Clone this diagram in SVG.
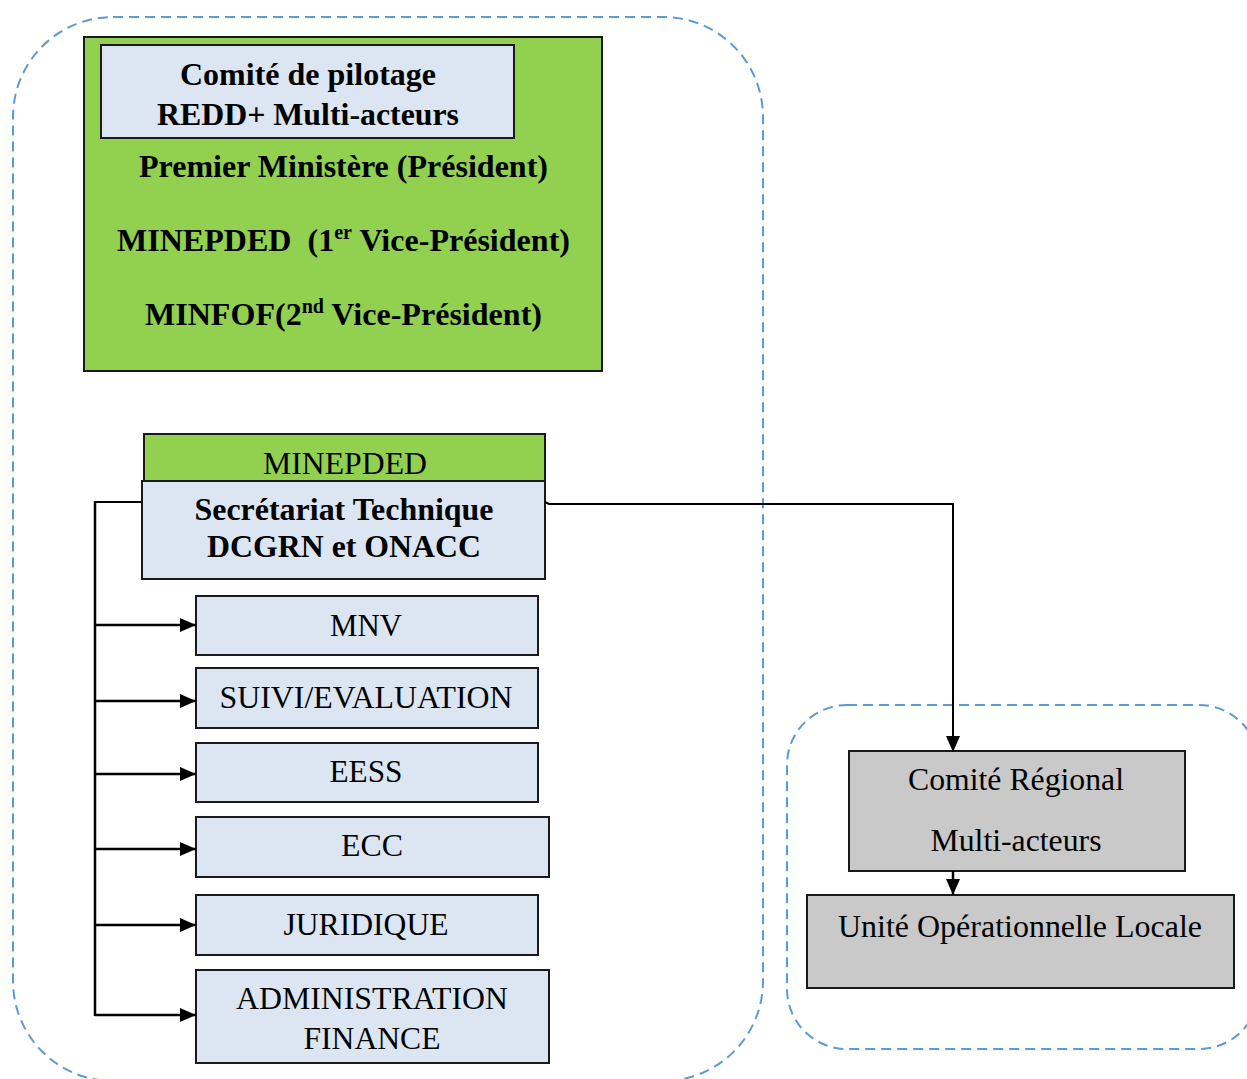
<svg xmlns="http://www.w3.org/2000/svg" width="1247" height="1079" viewBox="0 0 1247 1079">
<defs>
<style>
.dash{fill:none;stroke:#5b9bd5;stroke-width:2;stroke-dasharray:10 6}
.green{fill:#92d050;stroke:#1a1a1a;stroke-width:2}
.blue{fill:#dce6f2;stroke:#1a1a1a;stroke-width:2}
.gray{fill:#c9c9c9;stroke:#1a1a1a;stroke-width:2}
.b{font-family:"Liberation Serif","Times New Roman",serif;font-weight:bold;font-size:32px;fill:#000;text-anchor:middle}
.r{font-family:"Liberation Serif","Times New Roman",serif;font-size:31px;fill:#000;text-anchor:middle}
.line{fill:none;stroke:#000;stroke-width:2.5}
.thin{fill:none;stroke:#000;stroke-width:2}
</style>
<marker id="arrL" markerWidth="16" markerHeight="14" refX="16" refY="7" orient="auto" markerUnits="userSpaceOnUse">
<path d="M0,0 L16,7 L0,14 Z" fill="#000"/>
</marker>
</defs>

<g id="group-national">
<rect class="dash" x="13" y="17" width="750" height="1064" rx="100" ry="100"/>
</g>
<g id="group-regional">
<rect class="dash" x="787" y="705" width="472" height="344" rx="60" ry="60"/>
</g>

<g id="comite-pilotage">
<rect class="green" x="84" y="37" width="518" height="334"/>
<rect class="blue" x="101" y="45" width="413" height="93"/>
<text class="b" x="308" y="85" textLength="256" lengthAdjust="spacingAndGlyphs">Comité de pilotage</text>
<text class="b" x="308" y="125" textLength="302" lengthAdjust="spacingAndGlyphs">REDD+ Multi-acteurs</text>
<text class="b" x="343.5" y="177" textLength="409" lengthAdjust="spacingAndGlyphs">Premier Ministère (Président)</text>
<text class="b" x="343.5" y="251" textLength="453" lengthAdjust="spacingAndGlyphs" xml:space="preserve">MINEPDED  (1<tspan font-size="20" dy="-12">er</tspan><tspan dy="12"> Vice-Président)</tspan></text>
<text class="b" x="343.5" y="325" textLength="397" lengthAdjust="spacingAndGlyphs">MINFOF(2<tspan font-size="20" dy="-12">nd</tspan><tspan dy="12"> Vice-Président)</tspan></text>
</g>

<g id="minepded">
<rect class="green" x="144" y="434" width="401" height="48"/>
<text class="r" x="345" y="474" textLength="164" lengthAdjust="spacingAndGlyphs">MINEPDED</text>
</g>

<g id="secretariat">
<rect class="blue" x="142" y="481" width="403" height="98"/>
<text class="b" x="344" y="520" textLength="299" lengthAdjust="spacingAndGlyphs">Secrétariat Technique</text>
<text class="b" x="344" y="557" textLength="274" lengthAdjust="spacingAndGlyphs">DCGRN et ONACC</text>
</g>

<g id="mnv">
<rect class="blue" x="196" y="596" width="342" height="59"/>
<text class="r" x="366" y="636" textLength="72" lengthAdjust="spacingAndGlyphs">MNV</text>
</g>
<g id="suivi">
<rect class="blue" x="196" y="668" width="342" height="60"/>
<text class="r" x="366" y="708" textLength="293" lengthAdjust="spacingAndGlyphs">SUIVI/EVALUATION</text>
</g>
<g id="eess">
<rect class="blue" x="196" y="743" width="342" height="59"/>
<text class="r" x="366" y="782" textLength="73" lengthAdjust="spacingAndGlyphs">EESS</text>
</g>
<g id="ecc">
<rect class="blue" x="196" y="817" width="353" height="60"/>
<text class="r" x="372" y="856" textLength="62" lengthAdjust="spacingAndGlyphs">ECC</text>
</g>
<g id="juridique">
<rect class="blue" x="196" y="895" width="342" height="60"/>
<text class="r" x="366" y="935" textLength="165" lengthAdjust="spacingAndGlyphs">JURIDIQUE</text>
</g>
<g id="admin">
<rect class="blue" x="196" y="970" width="353" height="93"/>
<text class="r" x="372" y="1009" textLength="272" lengthAdjust="spacingAndGlyphs">ADMINISTRATION</text>
<text class="r" x="372" y="1049" textLength="137" lengthAdjust="spacingAndGlyphs">FINANCE</text>
</g>

<g id="comite-regional">
<rect class="gray" x="849" y="751" width="336" height="120"/>
<text class="r" x="1016" y="790" textLength="216" lengthAdjust="spacingAndGlyphs">Comité Régional</text>
<text class="r" x="1016" y="851" textLength="171" lengthAdjust="spacingAndGlyphs">Multi-acteurs</text>
</g>
<g id="unite-locale">
<rect class="gray" x="807" y="895" width="427" height="93"/>
<text class="r" x="1020" y="937" textLength="364" lengthAdjust="spacingAndGlyphs">Unité Opérationnelle Locale</text>
</g>

<g id="connectors">
<polyline class="thin" points="142,502 95,502"/>
<line class="line" x1="95" y1="501" x2="95" y2="1016"/>
<line class="line" x1="95" y1="625" x2="196" y2="625" marker-end="url(#arrL)"/>
<line class="line" x1="95" y1="701" x2="196" y2="701" marker-end="url(#arrL)"/>
<line class="line" x1="95" y1="774" x2="196" y2="774" marker-end="url(#arrL)"/>
<line class="line" x1="95" y1="849" x2="196" y2="849" marker-end="url(#arrL)"/>
<line class="line" x1="95" y1="925" x2="196" y2="925" marker-end="url(#arrL)"/>
<line class="line" x1="95" y1="1015" x2="196" y2="1015" marker-end="url(#arrL)"/>
<polyline class="thin" points="545,502 549,504 953,504 953,752" marker-end="url(#arrL)"/>
<line class="line" x1="953" y1="871" x2="953" y2="895" marker-end="url(#arrL)"/>
</g>
</svg>
